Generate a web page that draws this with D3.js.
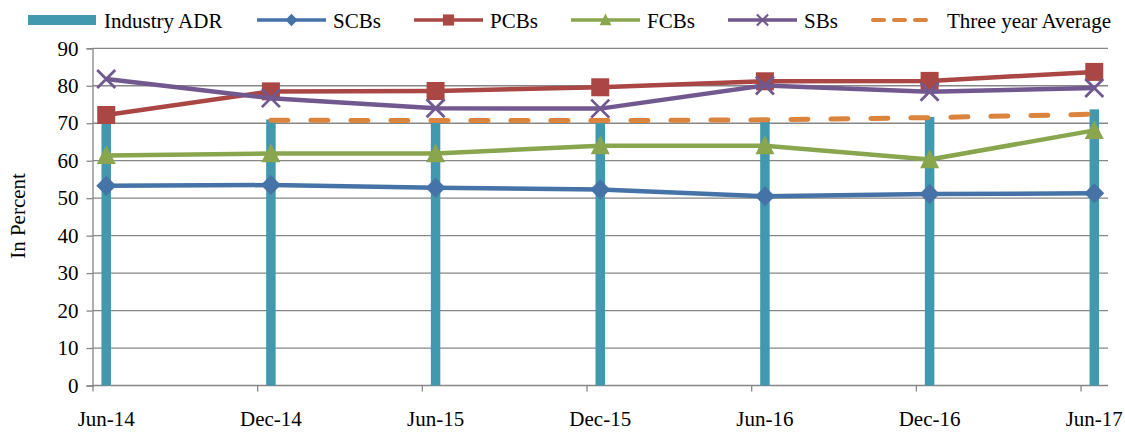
<!DOCTYPE html>
<html>
<head>
<meta charset="utf-8">
<script src="https://cdn.jsdelivr.net/npm/d3@7/dist/d3.min.js"></script>
<style>
  html, body { margin: 0; padding: 0; background: #ffffff; }
  svg { display: block; }
  text { font-family: "Liberation Serif", "Times New Roman", serif; fill: #000; }
</style>
</head>
<body>
<svg id="chart" width="1125" height="433"></svg>
<script>
// Half-yearly periods
const categories = ["Jun-14", "Dec-14", "Jun-15", "Dec-15", "Jun-16", "Dec-16", "Jun-17"];
// Advance-deposit ratio, in percent
const industryADR = [70.5, 71.0, 70.4, 70.7, 70.6, 71.7, 73.7];
const scbs = [53.3, 53.5, 52.8, 52.3, 50.5, 51.1, 51.3];
const pcbs = [72.2, 78.5, 78.6, 79.6, 81.2, 81.3, 83.7];
const fcbs = [61.4, 61.9, 61.9, 64.0, 64.0, 60.3, 68.1];
const sbs  = [81.8, 76.7, 74.0, 73.9, 80.1, 78.4, 79.4];
const threeYearAvg = [null, 70.8, 70.7, 70.7, 70.9, 71.5, 72.4];
const yTicks = [0, 10, 20, 30, 40, 50, 60, 70, 80, 90];

const svg = d3.select("#chart");

const plot = { left: 92.5, right: 1108, top: 48.3, bottom: 385.5 };
// months elapsed from Jun-14; the date axis runs in monthly slots up to Jul-17
const monthsPerStep = 6;
const totalMonths = 37;
const x = d3.scaleLinear().domain([0, totalMonths]).range([plot.left, plot.right]);
const px = i => x(i * monthsPerStep + 0.5);
const y = d3.scaleLinear().domain([0, 90]).range([plot.bottom, plot.top]);

const gridColor = "#868686";
const serif = "Liberation Serif, Times New Roman, serif";

// horizontal gridlines
svg.append("g")
  .selectAll("line")
  .data(yTicks.filter(t => t > 0))
  .join("line")
  .attr("x1", plot.left).attr("x2", plot.right)
  .attr("y1", d => y(d)).attr("y2", d => y(d))
  .attr("stroke", gridColor).attr("stroke-width", 1.3);

// y axis
const yAxis = svg.append("g")
  .attr("transform", `translate(${plot.left},0)`)
  .call(d3.axisLeft(y).tickValues(yTicks).tickSize(6).tickPadding(8));
yAxis.attr("font-family", serif);
yAxis.select(".domain").attr("stroke", gridColor).attr("stroke-width", 1.3);
yAxis.selectAll(".tick line").attr("stroke", gridColor).attr("stroke-width", 1.3);
yAxis.selectAll(".tick text")
  .attr("font-size", 21)
  .attr("fill", "#000");

// x axis: ticks at slot boundaries, labels centred on the data points
const xTickVals = d3.range(0, totalMonths, monthsPerStep);
const xAxis = svg.append("g")
  .attr("transform", `translate(0,${plot.bottom})`)
  .call(d3.axisBottom(x).tickValues(xTickVals).tickSize(6).tickFormat(""));
xAxis.select(".domain").attr("stroke", gridColor).attr("stroke-width", 1.3)
  .attr("d", `M${plot.left},0H${plot.right}`);
xAxis.selectAll(".tick line").attr("stroke", gridColor).attr("stroke-width", 1.3);

svg.append("g")
  .attr("font-family", serif)
  .selectAll("text")
  .data(categories)
  .join("text")
  .attr("x", (d, i) => px(i))
  .attr("y", 426)
  .attr("text-anchor", "middle")
  .attr("font-size", 21)
  .text(d => d);

// y axis title
svg.append("text")
  .attr("transform", "translate(25,216) rotate(-90)")
  .attr("text-anchor", "middle")
  .attr("font-size", 21)
  .text("In Percent");

// Industry ADR bars
const barColor = "#4198AF";
const barW = 9.5;
svg.append("g")
  .selectAll("rect")
  .data(industryADR)
  .join("rect")
  .attr("x", (d, i) => px(i) - barW / 2)
  .attr("width", barW)
  .attr("y", d => y(d))
  .attr("height", d => plot.bottom - y(d))
  .attr("fill", barColor);

const lineGen = d3.line()
  .defined(d => d != null)
  .x((d, i) => px(i))
  .y(d => y(d));

const symbolPath = (type, size) => {
  const r = size / 2;
  if (type === "diamond") return `M0,${-r}L${r},0L0,${r}L${-r},0Z`;
  if (type === "square") return `M${-r},${-r}H${r}V${r}H${-r}Z`;
  if (type === "triangle") return `M0,${-size * 0.55}L${r},${size * 0.45}L${-r},${size * 0.45}Z`;
  if (type === "cross") return `M${-r},${-r}L${r},${r}M${r},${-r}L${-r},${r}`;
};

const series = [
  { name: "SCBs", values: scbs, color: "#4572A7", marker: "diamond", size: 20 },
  { name: "PCBs", values: pcbs, color: "#AA4643", marker: "square", size: 18 },
  { name: "FCBs", values: fcbs, color: "#89A54E", marker: "triangle", size: 19 },
  { name: "SBs",  values: sbs,  color: "#71588F", marker: "cross", size: 18 }
];

function drawMarker(g, type, color, size, cx, cy, crossWidth) {
  const p = g.append("path")
    .attr("transform", `translate(${cx},${cy})`)
    .attr("d", symbolPath(type, size));
  if (type === "cross") {
    p.attr("fill", "none").attr("stroke", color).attr("stroke-width", crossWidth);
  } else {
    p.attr("fill", color);
  }
}

series.forEach(s => {
  const g = svg.append("g");
  g.append("path")
    .datum(s.values)
    .attr("d", lineGen)
    .attr("fill", "none")
    .attr("stroke", s.color)
    .attr("stroke-width", 4.5)
    .attr("stroke-linejoin", "round");
  s.values.forEach((v, i) => drawMarker(g, s.marker, s.color, s.size, px(i), y(v), 2.8));
});

// three year average (dashed)
const avgColor = "#DB843D";
svg.append("path")
  .datum(threeYearAvg)
  .attr("d", lineGen)
  .attr("fill", "none")
  .attr("stroke", avgColor)
  .attr("stroke-width", 5)
  .attr("stroke-linecap", "round")
  .attr("stroke-dasharray", "17,23");

// legend
const legend = svg.append("g");
const legY = 20;
const legItems = [
  { name: "Industry ADR", type: "bar", x0: 28, x1: 96, tx: 104 },
  { name: "SCBs", type: "line", s: series[0], x0: 257, x1: 326, tx: 333 },
  { name: "PCBs", type: "line", s: series[1], x0: 414, x1: 483, tx: 490 },
  { name: "FCBs", type: "line", s: series[2], x0: 571, x1: 640, tx: 647 },
  { name: "SBs",  type: "line", s: series[3], x0: 728, x1: 797, tx: 804 },
  { name: "Three year Average", type: "dash", x0: 871, x1: 928, tx: 947 }
];
legItems.forEach(it => {
  if (it.type === "bar") {
    legend.append("rect")
      .attr("x", it.x0).attr("y", legY - 5)
      .attr("width", it.x1 - it.x0).attr("height", 10)
      .attr("fill", barColor);
  } else if (it.type === "line") {
    legend.append("line")
      .attr("x1", it.x0).attr("x2", it.x1)
      .attr("y1", legY).attr("y2", legY)
      .attr("stroke", it.s.color).attr("stroke-width", 3.5);
    drawMarker(legend, it.s.marker, it.s.color, it.s.size * 0.62, (it.x0 + it.x1) / 2, legY, 2.2);
  } else {
    legend.append("line")
      .attr("x1", it.x0 + 2).attr("x2", it.x1)
      .attr("y1", legY).attr("y2", legY)
      .attr("stroke", avgColor).attr("stroke-width", 4)
      .attr("stroke-linecap", "round")
      .attr("stroke-dasharray", "11,10");
  }
  legend.append("text")
    .attr("x", it.tx).attr("y", legY + 7.5)
    .attr("font-size", 21)
    .text(it.name);
});
</script>
</body>
</html>
